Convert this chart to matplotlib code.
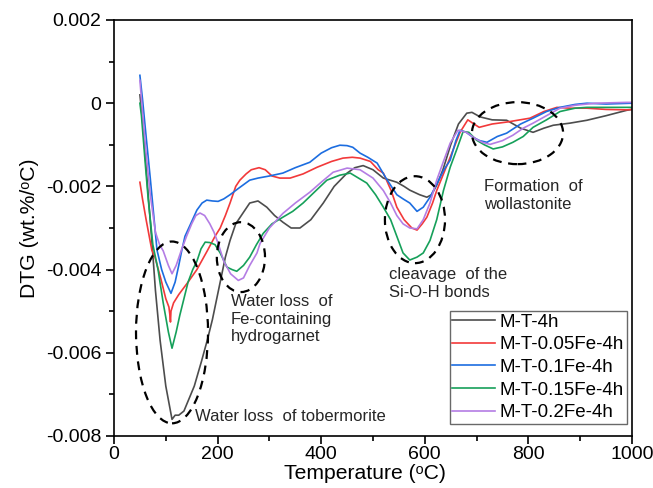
import matplotlib
matplotlib.use("Agg")
import matplotlib.pyplot as plt
from matplotlib.patches import Ellipse
from matplotlib.ticker import MultipleLocator, FuncFormatter

plt.rcParams['font.family'] = ['Liberation Sans', 'DejaVu Sans']
plt.rcParams['axes.unicode_minus'] = False

labels = ["M-T-4h", "M-T-0.05Fe-4h", "M-T-0.1Fe-4h", "M-T-0.15Fe-4h", "M-T-0.2Fe-4h"]
colors = ["#4d4d4d", "#f2393a", "#1c6de0", "#16a05a", "#b47de4"]

t_black = [50, 55, 60, 66, 73, 80, 89, 100, 112, 118, 125, 135, 145, 155, 169, 180, 190, 205, 215, 224,
           235, 249, 262, 278, 295, 310, 326, 342, 359, 380, 404, 425, 450, 465, 481, 500, 520, 533, 546,
           560, 571, 590, 604, 613, 623, 635, 650, 665, 681, 691, 707, 730, 758, 785, 809, 830, 848, 880,
           913, 950, 990, 1000]
y_black = [0.0002, -0.0004, -0.0012, -0.0022, -0.0033, -0.0045, -0.0057, -0.0068, -0.0076, -0.0075,
           -0.0075, -0.0074, -0.0071, -0.0068, -0.0062, -0.0057, -0.0052, -0.0043, -0.0037, -0.0033,
           -0.0029, -0.00264, -0.0024, -0.00235, -0.0025, -0.0027, -0.00286, -0.0030, -0.0030, -0.0028,
           -0.0024, -0.0020, -0.00168, -0.00155, -0.0015, -0.0016, -0.0018, -0.00185, -0.0019, -0.0020,
           -0.00209, -0.0022, -0.00226, -0.0022, -0.00197, -0.0016, -0.0010, -0.0005, -0.00024, -0.00022,
           -0.00033, -0.0004, -0.00041, -0.0006, -0.0007, -0.0006, -0.00053, -0.00048, -0.00041, -0.0003,
           -0.00017, -0.00015]

t_red = [50, 55, 62, 73, 79, 90, 100, 106, 108, 109, 110, 115, 125, 143, 160, 180, 195, 205, 215, 224,
         235, 243, 255, 265, 280, 292, 305, 320, 340, 365, 392, 420, 442, 460, 475, 495, 510, 520, 535,
         546, 560, 575, 585, 595, 604, 615, 623, 636, 649, 668, 683, 695, 705, 730, 760, 803, 830, 855,
         880, 913, 950, 990, 1000]
y_red = [-0.0019, -0.0023, -0.0028, -0.00353, -0.0037, -0.0042, -0.0047, -0.0049, -0.0051, -0.00526,
         -0.0050, -0.0048, -0.0046, -0.0043, -0.0040, -0.00355, -0.0032, -0.0030, -0.0027, -0.0024,
         -0.0020, -0.00185, -0.0017, -0.0016, -0.00155, -0.0016, -0.00175, -0.0018, -0.0018, -0.0017,
         -0.00154, -0.0014, -0.00132, -0.0013, -0.00132, -0.0014, -0.0016, -0.00168, -0.0021, -0.0025,
         -0.0028, -0.0030, -0.00305, -0.0029, -0.00274, -0.0024, -0.0021, -0.0017, -0.0013, -0.0007,
         -0.0004, -0.0005, -0.00058, -0.0005, -0.00045, -0.00036, -0.0002, -0.0001, -0.00012, -0.00012,
         -0.00015, -0.00016, -0.00015]

t_blue = [50, 55, 62, 70, 83, 92, 100, 110, 118, 125, 131, 137, 148, 160, 170, 179, 190, 201, 212, 224,
          240, 262, 278, 300, 326, 350, 378, 400, 420, 436, 450, 461, 475, 490, 508, 525, 546, 558, 571,
          585, 597, 610, 625, 637, 649, 660, 668, 680, 693, 706, 720, 740, 758, 785, 809, 835, 861, 890,
          913, 950, 1000]
y_blue = [0.00067, 0.0001, -0.0008, -0.0018, -0.00353, -0.0040, -0.0043, -0.00457, -0.0043, -0.0039,
          -0.00353, -0.0032, -0.0029, -0.00257, -0.0024, -0.00233, -0.00235, -0.00236, -0.0023, -0.0022,
          -0.00205, -0.00185, -0.0018, -0.00175, -0.00168, -0.00155, -0.00142, -0.0012, -0.00107,
          -0.00101, -0.00102, -0.00106, -0.0012, -0.0013, -0.00144, -0.0018, -0.0022, -0.0023, -0.0024,
          -0.0026, -0.0025, -0.00226, -0.0019, -0.0016, -0.00137, -0.0009, -0.00065, -0.0007, -0.00082,
          -0.0009, -0.00094, -0.0008, -0.00072, -0.0005, -0.00036, -0.0002, -0.0001, -0.00003, 0.0,
          -0.00002, 0.0]

t_green = [50, 53, 60, 66, 75, 85, 95, 105, 112, 120, 127, 135, 143, 152, 160, 168, 176, 185, 195, 205,
           218, 228, 237, 250, 262, 275, 288, 305, 326, 345, 365, 390, 411, 436, 456, 472, 488, 505, 520,
           534, 546, 558, 571, 585, 597, 610, 623, 636, 649, 662, 674, 685, 700, 715, 732, 750, 770, 790,
           809, 835, 861, 890, 913, 950, 1000]
y_green = [0.0, -0.0003, -0.0014, -0.0023, -0.0034, -0.0040, -0.0048, -0.0055, -0.00589, -0.0055,
           -0.0051, -0.0047, -0.0043, -0.0040, -0.0038, -0.0035, -0.00334, -0.00335, -0.0034, -0.0036,
           -0.00394, -0.0040, -0.00404, -0.0039, -0.0037, -0.0034, -0.00313, -0.0029, -0.00274, -0.0026,
           -0.0024, -0.0021, -0.00185, -0.00173, -0.00168, -0.0018, -0.00192, -0.0022, -0.0025, -0.0028,
           -0.0032, -0.0036, -0.00377, -0.0037, -0.0036, -0.0033, -0.0028, -0.0021, -0.00154, -0.0011,
           -0.00068, -0.0007, -0.00089, -0.0010, -0.0011, -0.00105, -0.00094, -0.0008, -0.00058, -0.0004,
           -0.0002, -0.00012, -0.0001, -0.0001, -0.0001]

t_purple = [50, 55, 62, 70, 80, 88, 95, 105, 112, 120, 131, 140, 150, 158, 166, 175, 185, 193, 201, 212,
            225, 240, 250, 262, 276, 282, 300, 326, 350, 378, 400, 423, 450, 475, 500, 520, 534, 546, 558,
            571, 585, 597, 610, 623, 636, 649, 664, 680, 700, 713, 726, 750, 770, 790, 809, 835, 861, 890,
            930, 990, 1000]
y_purple = [0.00055, -0.0002, -0.0012, -0.0022, -0.0031, -0.0034, -0.00355, -0.0039, -0.0041, -0.0039,
            -0.0035, -0.0032, -0.0029, -0.0027, -0.00264, -0.0027, -0.0029, -0.0031, -0.00337, -0.0038,
            -0.0041, -0.00426, -0.0042, -0.0039, -0.0036, -0.00337, -0.0030, -0.00265, -0.0024, -0.00214,
            -0.0019, -0.00166, -0.00156, -0.0016, -0.0018, -0.0021, -0.0024, -0.0027, -0.0029, -0.0030,
            -0.00302, -0.0028, -0.0024, -0.00185, -0.0014, -0.00096, -0.00065, -0.0007, -0.00087, -0.00095,
            -0.00099, -0.0009, -0.00077, -0.0006, -0.00048, -0.0003, -0.00012, -0.00005, 0.0, 0.00002,
            0.00002]

series_t = [t_black, t_red, t_blue, t_green, t_purple]
series_y = [y_black, y_red, y_blue, y_green, y_purple]

annot_texts = ["Water loss  of tobermorite", "Water loss  of\nFe-containing\nhydrogarnet",
               "cleavage  of the\nSi-O-H bonds", "Formation  of\nwollastonite"]
xlabel_text = "Temperature (\u1d52C)"
ylabel_text = "DTG (wt.%/\u1d52C)"

fig = plt.figure(figsize=(6.53, 4.88), dpi=100)
ax = fig.add_axes([114/653, 1-436/488, (632-114)/653, (436-20)/488])

for t, y, c, lab in zip(series_t, series_y, colors, labels):
    ax.plot(t, y, color=c, lw=1.2, label=lab)

# dashed ellipses (center T, center y, width, height)
ellipses = [(112, -0.00551, 139, 0.00437), (245, -0.0037, 93, 0.00168),
            (581, -0.0028, 116, 0.00209), (779, -0.00072, 176, 0.00149)]
for cx, cy, w, h in ellipses:
    ax.add_patch(Ellipse((cx, cy), w, h, fill=False, edgecolor='black', lw=1.6,
                         linestyle=(0, (4, 3)), zorder=5))

tfs = 12
tcol = '#262626'
ax.text(156, -0.00752, annot_texts[0], fontsize=tfs, va='center', ha='left', color=tcol)
ax.text(226, -0.00459, annot_texts[1], fontsize=tfs, va='top', ha='left', color=tcol, linespacing=1.22)
ax.text(531, -0.00394, annot_texts[2], fontsize=tfs, va='top', ha='left', color=tcol, linespacing=1.22)
ax.text(714, -0.00182, annot_texts[3], fontsize=tfs, va='top', ha='left', color=tcol, linespacing=1.22)

ax.set_xlim(0, 1000)
ax.set_ylim(-0.008, 0.002)
ax.xaxis.set_major_locator(MultipleLocator(200))
ax.xaxis.set_minor_locator(MultipleLocator(100))
ax.yaxis.set_major_locator(MultipleLocator(0.002))
ax.yaxis.set_minor_locator(MultipleLocator(0.001))
ax.yaxis.set_major_formatter(FuncFormatter(lambda v, p: "0" if abs(v) < 1e-9 else f"{v:.3f}"))
ax.xaxis.set_major_formatter(FuncFormatter(lambda v, p: f"{v:.0f}"))
ax.tick_params(which='both', direction='out', width=1.2, labelsize=14, top=False, right=False)
ax.tick_params(which='major', length=5.5)
ax.tick_params(which='minor', length=3.5)
ax.tick_params(axis='x', which='major', pad=2)
for s in ax.spines.values():
    s.set_linewidth(1.2)

ax.set_xlabel(xlabel_text, fontsize=15.2, labelpad=0.5)
ax.xaxis.label.set_x(0.485)
ax.set_ylabel(ylabel_text, fontsize=15.2, labelpad=5)

leg = ax.legend(loc='lower right', bbox_to_anchor=(0.99, 0.029), borderaxespad=0, fontsize=13.5,
                frameon=True, fancybox=False, edgecolor='#444444', handlelength=2.25,
                handletextpad=0.27, labelspacing=0.29, borderpad=0.15)
leg.get_frame().set_linewidth(1.0)

fig.savefig("out.png", dpi=100)
